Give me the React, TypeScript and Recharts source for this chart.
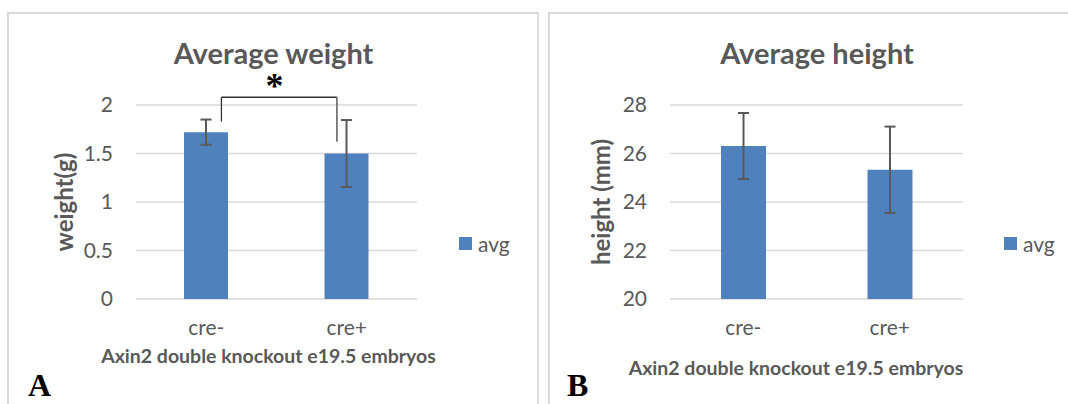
import { BarChart, Bar, XAxis, YAxis, CartesianGrid, ErrorBar, Legend, ReferenceLine } from "recharts";

const categories = ["cre-", "cre+"];
const weightAvg = [1.72, 1.5];
const weightErr = [0.13, 0.345];
const heightAvg = [26.31, 25.33];
const heightErr = [1.36, 1.78];
const weightTicks = [0, 0.5, 1, 1.5, 2];
const heightTicks = [20, 22, 24, 26, 28];

// significance bracket over the weight bars, x as a fraction of the plot width
const bracketX = [0.304, 0.715];
const bracketY = [2.08, 1.83, 1.62];

const FONT = "Lato, 'Open Sans', sans-serif";
const GREY = "#595959";
const BLUE = "#4f81bd";
const GRID = "#d9d9d9";

const weightData = categories.map((name, i) => ({ name, avg: weightAvg[i], err: weightErr[i] }));
const heightData = categories.map((name, i) => ({ name, avg: heightAvg[i], err: heightErr[i] }));

function AvgLegend() {
  return (
    <div style={{ display: "flex", alignItems: "center", fontFamily: FONT, fontSize: 21, color: GREY, lineHeight: "13px" }}>
      <span style={{ display: "inline-block", width: 13, height: 13, background: BLUE, marginRight: 6 }} />
      avg
    </div>
  );
}

type PanelProps = {
  data: { name: string; avg: number; err: number }[];
  width: number;
  yAxisWidth: number;
  right: number;
  domain: [number, number];
  ticks: number[];
  yLabel: string;
  yLabelX: number;
  barSize: number;
  legendLeft: number;
  children?: React.ReactNode;
};

function Panel({ data, width, yAxisWidth, right, domain, ticks, yLabel, yLabelX, barSize, legendLeft, children }: PanelProps) {
  return (
    <BarChart width={width} height={404} data={data} margin={{ top: 105, right, bottom: 75, left: 0 }}>
      <CartesianGrid vertical={false} stroke={GRID} strokeWidth={1.5} />
      <XAxis
        dataKey="name"
        axisLine={false}
        tickLine={false}
        tickSize={0}
        tickMargin={21}
        height={30}
        tick={{ fill: GREY, fontSize: 21, fontFamily: FONT }}
      />
      <XAxis xAxisId="pos" type="number" domain={[0, 1]} hide allowDataOverflow />
      <YAxis
        domain={domain}
        ticks={ticks}
        width={yAxisWidth}
        axisLine={false}
        tickLine={false}
        tickSize={0}
        tickMargin={23}
        tick={{ fill: GREY, fontSize: 21, fontFamily: FONT }}
        label={{
          value: yLabel,
          angle: -90,
          position: "insideLeft",
          offset: yLabelX,
          style: { textAnchor: "middle", fontFamily: FONT, fontWeight: 700, fontSize: 24, fill: GREY },
        }}
      />
      <Legend
        layout="vertical"
        align="center"
        verticalAlign="middle"
        content={AvgLegend}
        wrapperStyle={{ left: legendLeft, top: 237, width: 80 }}
      />
      <Bar dataKey="avg" name="avg" fill={BLUE} barSize={barSize} isAnimationActive={false}>
        <ErrorBar dataKey="err" width={5.5} stroke={GREY} strokeWidth={2} direction="y" />
      </Bar>
      {children}
    </BarChart>
  );
}

export default function App() {
  const textStyle = { fontFamily: FONT, fontWeight: 700, fill: GREY } as const;
  return (
    <div style={{ position: "absolute", left: 0, top: 0, width: 1068, height: 404, background: "#fff", overflow: "hidden" }}>
      <svg width={1068} height={404} style={{ position: "absolute", left: 0, top: 0 }}>
        <rect x={8} y={13} width={530} height={420} fill="none" stroke={GRID} strokeWidth={2} />
        <rect x={549} y={13} width={540} height={420} fill="none" stroke={GRID} strokeWidth={2} />
        <text x={273.5} y={64} textAnchor="middle" fontSize={29} {...textStyle}>Average weight</text>
        <text x={817} y={64} textAnchor="middle" fontSize={29} {...textStyle}>Average height</text>
        <text x={268.5} y={362.5} textAnchor="middle" fontSize={19.5} {...textStyle}>Axin2 double knockout e19.5 embryos</text>
        <text x={796} y={375} textAnchor="middle" fontSize={19.5} {...textStyle}>Axin2 double knockout e19.5 embryos</text>
        <text x={274.5} y={98} textAnchor="middle" fontSize={36} fontFamily="'Liberation Serif', serif" fontWeight={700} fill="#000">*</text>
        <text x={28} y={396} fontSize={32} fontFamily="'Liberation Serif', serif" fontWeight={700} fill="#000">A</text>
        <text x={567} y={396} fontSize={32} fontFamily="'Liberation Serif', serif" fontWeight={700} fill="#000">B</text>
      </svg>
      <div style={{ position: "absolute", left: 0, top: 0 }}>
        <Panel
          data={weightData}
          width={540}
          yAxisWidth={136}
          right={123}
          domain={[0, 2]}
          ticks={weightTicks}
          yLabel="weight(g)"
          yLabelX={64}
          barSize={44}
          legendLeft={459}
        >
          <ReferenceLine xAxisId="pos" segment={[{ x: bracketX[0], y: bracketY[0] }, { x: bracketX[1], y: bracketY[0] }]} stroke="#333" strokeWidth={1.3} ifOverflow="visible" />
          <ReferenceLine xAxisId="pos" segment={[{ x: bracketX[0], y: bracketY[0] }, { x: bracketX[0], y: bracketY[1] }]} stroke="#333" strokeWidth={1.3} ifOverflow="visible" />
          <ReferenceLine xAxisId="pos" segment={[{ x: bracketX[1], y: bracketY[0] }, { x: bracketX[1], y: bracketY[2] }]} stroke="#666" strokeWidth={1.6} ifOverflow="visible" />
        </Panel>
      </div>
      <div style={{ position: "absolute", left: 540, top: 0 }}>
        <Panel
          data={heightData}
          width={528}
          yAxisWidth={130}
          right={105}
          domain={[20, 28]}
          ticks={heightTicks}
          yLabel="height (mm)"
          yLabelX={61}
          barSize={45}
          legendLeft={464}
        />
      </div>
    </div>
  );
}
